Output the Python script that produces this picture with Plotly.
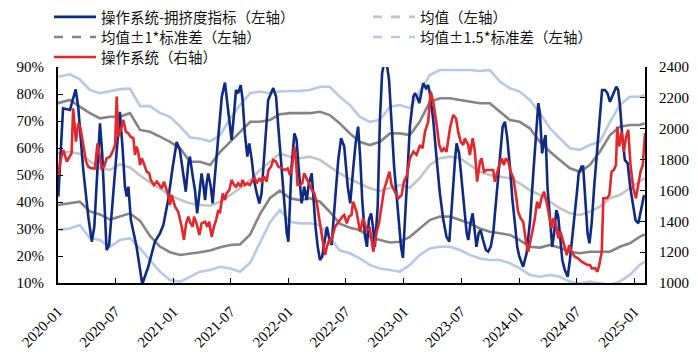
import plotly.graph_objects as go

# ---------------- data ----------------
blue_dates = [
 "2020-01-02","2020-01-17","2020-02-08","2020-02-26","2020-03-05","2020-03-21","2020-04-06","2020-04-17","2020-04-25","2020-05-06",
 "2020-05-13","2020-05-20","2020-06-03","2020-06-11","2020-06-30","2020-07-15","2020-07-24","2020-07-31","2020-08-06","2020-08-11",
 "2020-08-19","2020-09-06","2020-09-24","2020-10-13","2020-11-03","2020-11-19","2020-11-30","2020-12-15","2020-12-29","2021-01-11",
 "2021-01-21","2021-02-01","2021-02-09","2021-02-17","2021-02-22","2021-03-03","2021-03-10","2021-03-17","2021-03-24","2021-03-31",
 "2021-04-05","2021-04-11","2021-04-16","2021-04-21","2021-04-29","2021-05-05","2021-05-12","2021-05-23","2021-06-03","2021-06-13",
 "2021-06-20","2021-06-29","2021-07-04","2021-07-12","2021-07-18","2021-07-25","2021-08-02","2021-08-08","2021-08-15","2021-08-23",
 "2021-08-29","2021-09-06","2021-09-13","2021-09-22","2021-09-30","2021-10-07","2021-10-18","2021-10-28","2021-11-13","2021-11-22",
 "2021-11-29","2021-12-07","2021-12-15","2021-12-26","2021-12-31","2022-01-10","2022-01-19","2022-01-26","2022-02-02","2022-02-11",
 "2022-02-19","2022-02-27","2022-03-06","2022-03-15","2022-03-21","2022-03-27","2022-04-03","2022-04-10","2022-04-17","2022-04-26",
 "2022-05-02","2022-05-09","2022-05-17","2022-05-28","2022-06-07","2022-06-16","2022-06-26","2022-07-07","2022-07-15","2022-07-24",
 "2022-08-01","2022-08-09","2022-08-16","2022-08-22","2022-08-31","2022-09-06","2022-09-12","2022-09-19","2022-09-25","2022-10-01",
 "2022-10-10","2022-10-17","2022-10-24","2022-10-31","2022-11-07","2022-11-15","2022-11-23","2022-12-01","2022-12-12","2022-12-23",
 "2022-12-29","2023-01-04","2023-01-10","2023-01-20","2023-01-31","2023-02-05","2023-02-12","2023-02-19","2023-02-24","2023-03-03",
 "2023-03-12","2023-03-19","2023-03-24","2023-04-04","2023-04-15","2023-04-25","2023-05-06","2023-05-16","2023-05-25","2023-06-04",
 "2023-06-12","2023-06-17","2023-06-25","2023-07-03","2023-07-10","2023-07-19","2023-07-24","2023-07-31","2023-08-07","2023-08-13",
 "2023-08-19","2023-08-26","2023-09-01","2023-09-09","2023-09-18","2023-09-25","2023-10-03","2023-10-11","2023-10-22","2023-11-01",
 "2023-11-10","2023-11-17","2023-11-24","2023-12-03","2023-12-11","2023-12-20","2023-12-26","2024-01-02","2024-01-14","2024-01-25",
 "2024-02-05","2024-02-15","2024-02-22","2024-03-02","2024-03-07","2024-03-14","2024-03-21","2024-03-25","2024-03-31","2024-04-08",
 "2024-04-15","2024-04-21","2024-04-28","2024-05-04","2024-05-10","2024-05-17","2024-05-25","2024-06-03","2024-06-10","2024-06-17",
 "2024-06-26","2024-07-02","2024-07-08","2024-07-17","2024-07-22","2024-07-30","2024-08-05","2024-08-11","2024-08-18","2024-08-26",
 "2024-09-04","2024-09-13","2024-09-20","2024-09-29","2024-10-07","2024-10-15","2024-10-22","2024-10-28","2024-11-04","2024-11-10",
 "2024-11-16","2024-11-23","2024-12-01","2024-12-10","2024-12-18","2024-12-28","2025-01-04","2025-01-13","2025-01-19","2025-01-31"]
blue_values = [
 42.0,74.7,74.1,81.7,75.3,51.9,34.6,25.3,30.8,56.8,
 69.1,58.0,22.2,24.1,51.9,73.4,59.3,45.7,42.0,45.7,
 33.3,23.4,9.6,16.0,25.3,28.4,31.5,40.7,52.6,62.2,
 59.3,49.4,43.8,54.3,56.8,49.4,44.4,35.8,43.2,50.6,
 46.9,40.7,46.9,50.6,45.7,39.5,49.4,65.4,79.0,84.2,
 77.8,67.9,63.0,72.9,81.5,80.3,83.3,77.8,65.4,56.8,
 61.7,55.6,48.1,43.2,39.5,43.2,63.0,77.8,82.2,79.0,
 67.9,55.6,43.2,28.4,25.3,53.1,65.4,63.0,51.9,39.5,
 45.7,40.7,46.9,50.6,40.7,30.8,23.4,18.5,19.7,27.1,
 30.8,26.6,24.1,40.7,55.6,63.6,60.5,45.7,39.5,51.9,
 61.7,67.9,55.6,40.7,27.1,23.4,33.3,35.8,30.8,23.4,
 38.3,70.4,87.7,91.9,91.9,85.2,70.4,53.1,38.3,23.4,
 19.3,30.8,45.7,67.9,79.0,80.3,78.9,76.6,80.3,84.0,
 82.1,83.3,80.3,70.4,55.6,43.2,33.3,27.1,25.3,43.2,
 55.6,61.7,58.0,48.1,39.5,28.4,25.9,32.1,35.8,28.4,
 23.4,28.4,29.6,25.9,22.2,21.6,23.4,28.4,43.2,58.0,
 67.9,69.7,64.2,53.1,40.7,30.8,23.4,19.7,16.0,21.1,
 33.3,50.6,63.0,76.6,72.9,58.0,63.0,64.8,45.7,33.3,
 23.4,28.4,37.0,34.6,25.9,18.5,14.8,12.3,18.5,25.9,
 34.6,43.2,50.6,53.1,53.1,38.3,28.4,24.7,32.1,45.7,
 58.0,70.4,81.5,81.5,80.3,77.1,79.0,80.9,82.7,81.5,
 75.3,64.2,55.6,54.3,45.7,38.3,33.3,32.1,35.8,42.6]

red_dates = [
 "2020-01-02","2020-01-09","2020-01-18","2020-01-29","2020-02-13","2020-02-18","2020-02-27","2020-03-05","2020-03-12","2020-03-21",
 "2020-03-30","2020-04-06","2020-04-17","2020-04-27","2020-05-05","2020-05-10","2020-05-18","2020-05-26","2020-06-03","2020-06-14",
 "2020-06-22","2020-06-30","2020-07-05","2020-07-10","2020-07-18","2020-07-26","2020-08-03","2020-08-11","2020-08-18","2020-08-27",
 "2020-09-01","2020-09-06","2020-09-11","2020-09-17","2020-09-22","2020-09-27","2020-10-08","2020-10-16","2020-10-21","2020-10-31",
 "2020-11-09","2020-11-25","2020-12-02","2020-12-10","2020-12-15","2020-12-21","2020-12-26","2021-01-06","2021-01-16","2021-01-27",
 "2021-02-03","2021-02-10","2021-02-17","2021-02-24","2021-03-03","2021-03-07","2021-03-15","2021-03-24","2021-03-31","2021-04-11",
 "2021-04-18","2021-04-24","2021-05-02","2021-05-09","2021-05-16","2021-05-23","2021-05-28","2021-06-06","2021-06-13","2021-06-18",
 "2021-06-27","2021-07-04","2021-07-12","2021-07-18","2021-07-25","2021-08-02","2021-08-08","2021-08-15","2021-08-23","2021-08-31",
 "2021-09-09","2021-09-16","2021-09-22","2021-09-30","2021-10-07","2021-10-15","2021-10-23","2021-10-29","2021-11-06","2021-11-13",
 "2021-11-22","2021-11-29","2021-12-10","2021-12-20","2021-12-29","2022-01-05","2022-01-12","2022-01-19","2022-01-24","2022-01-29",
 "2022-02-06","2022-02-13","2022-02-19","2022-02-27","2022-03-06","2022-03-15","2022-03-23","2022-03-31","2022-04-07","2022-04-13",
 "2022-04-20","2022-04-26","2022-05-02","2022-05-09","2022-05-15","2022-05-21","2022-05-28","2022-06-05","2022-06-12","2022-06-20",
 "2022-06-26","2022-07-04","2022-07-11","2022-07-19","2022-07-24","2022-08-04","2022-08-15","2022-08-25","2022-09-05","2022-09-15",
 "2022-09-26","2022-10-07","2022-10-14","2022-10-22","2022-10-30","2022-11-07","2022-11-16","2022-11-23","2022-12-04","2022-12-14",
 "2022-12-25","2023-01-01","2023-01-11","2023-01-20","2023-01-31","2023-02-10","2023-02-21","2023-03-01","2023-03-09","2023-03-19",
 "2023-03-27","2023-04-04","2023-04-15","2023-04-23","2023-05-01","2023-05-08","2023-05-16","2023-05-27","2023-06-06","2023-06-15",
 "2023-06-22","2023-06-30","2023-07-08","2023-07-13","2023-07-24","2023-07-29","2023-08-07","2023-08-14","2023-08-21","2023-08-30",
 "2023-09-04","2023-09-12","2023-09-20","2023-10-11","2023-10-16","2023-10-27","2023-11-07","2023-11-14","2023-11-20","2023-11-28",
 "2023-12-05","2023-12-14","2023-12-22","2023-12-29","2024-01-06","2024-01-14","2024-01-23","2024-01-30","2024-02-10","2024-02-20",
 "2024-02-27","2024-03-05","2024-03-12","2024-03-20","2024-03-28","2024-04-05","2024-04-13","2024-04-18","2024-04-27","2024-05-04",
 "2024-05-11","2024-05-20","2024-05-25","2024-05-31","2024-06-08","2024-06-15","2024-06-26","2024-07-06","2024-07-17","2024-07-28",
 "2024-08-04","2024-08-13","2024-08-18","2024-08-29","2024-09-05","2024-09-11","2024-09-19","2024-09-24","2024-10-05","2024-10-13",
 "2024-10-20","2024-10-27","2024-11-03","2024-11-07","2024-11-13","2024-11-21","2024-11-28","2024-12-04","2024-12-12","2024-12-19",
 "2024-12-28","2025-01-05","2025-01-13","2025-01-20","2025-01-27","2025-02-03"]
red_values = [
 1700,1797,1862,1786,1841,2132,1916,2035,2005,1894,
 1786,1754,1743,1743,1905,1851,1743,1754,1808,1819,
 1851,1894,2208,1948,1992,2057,1981,1970,1948,1938,
 1830,1884,1851,1765,1808,1786,1722,1711,1668,1635,
 1657,1614,1657,1603,1570,1505,1570,1495,1462,1365,
 1279,1387,1430,1387,1365,1430,1387,1311,1387,1397,
 1365,1397,1300,1365,1408,1473,1452,1581,1538,1581,
 1603,1668,1635,1624,1646,1624,1668,1635,1646,1635,
 1668,1679,1646,1679,1657,1689,1657,1732,1754,1797,
 1786,1754,1743,1732,1743,1700,1754,1884,1797,1635,
 1635,1646,1711,1679,1646,1603,1581,1517,1430,1343,
 1246,1181,1235,1279,1268,1322,1365,1387,1408,1430,
 1441,1387,1430,1441,1527,1462,1333,1419,1343,1354,
 1203,1333,1387,1505,1603,1657,1722,1635,1592,1549,
 1570,1657,1700,1808,1851,1830,1894,1873,1981,2046,
 2240,2175,2024,1894,1851,1873,1851,2003,2089,2068,
 1981,1916,1894,1938,1894,1830,1938,1851,1657,1786,
 1808,1722,1732,1732,1657,1743,1808,1765,1808,1786,
 1722,1679,1570,1462,1419,1397,1268,1203,1311,1419,
 1527,1484,1549,1592,1527,1441,1354,1419,1376,1290,
 1333,1268,1225,1181,1246,1203,1170,1160,1138,1127,
 1117,1117,1095,1095,1073,1117,1203,1549,1549,1570,
 1722,1732,1765,2013,1884,1981,1851,1938,1992,1765,
 1614,1549,1657,1722,1765,1970]

band_dates = [
 "2020-01-01","2020-02-08","2020-03-10","2020-04-11","2020-05-13","2020-06-14","2020-07-15","2020-08-16","2020-09-17","2020-10-18",
 "2020-11-19","2020-12-21","2021-01-22","2021-02-22","2021-03-26","2021-04-27","2021-05-29","2021-06-30","2021-07-31","2021-09-01",
 "2021-10-02","2021-11-03","2021-12-04","2022-01-05","2022-02-05","2022-03-09","2022-04-10","2022-05-11","2022-06-12","2022-07-14",
 "2022-08-14","2022-09-15","2022-10-17","2022-11-18","2022-12-19","2023-01-20","2023-02-20","2023-03-24","2023-04-25","2023-05-27",
 "2023-06-28","2023-07-29","2023-08-30","2023-09-30","2023-11-01","2023-12-03","2024-01-03","2024-02-04","2024-03-07","2024-04-08",
 "2024-05-09","2024-06-10","2024-07-12","2024-08-12","2024-09-13","2024-10-15","2024-11-15","2024-12-17","2025-01-17","2025-02-02"]
mean_values = [
 58.0,58.6,57.8,55.0,52.5,51.9,54.0,52.8,49.8,47.3,
 44.8,42.6,40.8,39.5,38.9,38.6,40.1,42.6,45.1,48.1,
 51.9,54.9,58.0,56.8,56.2,56.8,55.6,53.1,50.6,48.5,
 46.9,45.1,44.1,45.1,46.3,45.3,48.8,53.7,56.2,56.8,
 56.2,53.7,51.2,50.0,49.4,48.8,46.9,44.4,42.6,40.1,
 37.7,35.8,35.2,36.4,38.3,41.4,42.6,45.1,47.5,48.8]
up1_values = [
 76.6,77.8,75.3,72.9,71.0,71.6,71.6,72.9,66.7,66.0,
 64.2,62.3,59.9,54.9,54.9,53.7,58.6,62.3,66.0,69.7,
 69.7,70.4,72.5,72.9,72.9,72.9,73.4,72.2,69.1,65.4,
 62.3,61.1,62.3,65.4,65.4,64.8,69.7,77.1,78.4,78.4,
 77.8,77.1,76.6,76.6,73.4,70.4,69.7,67.3,62.3,58.6,
 55.6,52.5,51.2,53.7,58.6,64.8,67.9,68.5,68.5,69.1]
low1_values = [
 38.9,39.5,40.1,36.5,35.4,33.5,34.6,35.8,33.0,27.5,
 23.5,21.4,20.4,20.8,21.4,22.0,23.2,24.1,24.3,28.0,
 35.5,41.5,44.2,41.4,40.7,41.4,40.1,36.4,32.0,30.5,
 29.6,27.1,25.9,25.0,25.3,27.1,30.2,33.3,34.6,34.6,
 33.3,32.1,30.2,29.0,28.4,27.8,25.9,23.4,23.1,24.1,
 23.1,21.6,21.0,21.6,21.6,21.6,23.4,24.7,27.1,28.0]
up15_values = [
 86.4,87.3,85.4,81.5,80.3,81.0,81.8,82.0,75.5,75.5,
 73.0,71.5,68.0,64.0,63.4,62.5,64.8,71.0,75.9,80.3,
 80.9,80.3,80.9,81.1,81.1,81.5,82.7,82.7,79.0,75.9,
 71.6,69.7,70.4,75.3,75.9,74.7,80.9,87.0,88.9,88.9,
 88.9,88.9,88.5,88.9,84.6,82.1,80.9,77.8,72.9,67.3,
 63.6,59.9,59.3,61.1,62.3,69.7,75.9,79.0,79.0,79.6]
low15_values = [
 29.6,30.2,31.5,26.6,25.9,23.4,25.9,26.6,22.8,18.5,
 14.2,11.1,10.5,12.3,14.2,14.8,16.0,15.4,14.2,17.5,
 25.0,32.5,37.0,32.7,32.1,32.1,31.5,26.6,22.0,21.0,
 19.1,16.7,15.4,14.8,14.2,16.7,20.4,22.8,23.4,23.4,
 22.2,20.4,19.1,18.5,18.5,17.3,15.4,13.0,12.3,13.0,
 12.3,10.5,9.9,10.5,9.9,9.3,10.5,13.0,16.7,17.9]

x_ticks = ["2020-01-01","2020-07-01","2021-01-01","2021-07-01","2022-01-01","2022-07-01",
           "2023-01-01","2023-07-01","2024-01-01","2024-07-01","2025-01-01"]
x_ticktext = ["2020-01","2020-07","2021-01","2021-07","2022-01","2022-07",
              "2023-01","2023-07","2024-01","2024-07","2025-01"]

names = ["操作系统-拥挤度指标（左轴）", "均值（左轴）", "均值±1*标准差（左轴）",
         "均值±1.5*标准差（左轴）", "操作系统（右轴）"]

# ---------------- styles ----------------
C_BLUE = "#0F2A85"
C_RED = "#E3272B"
C_MEAN = "#C4C4C4"
C_SD1 = "#858585"
C_SD15 = "#B7C9E8"
LW = 2.6

fig = go.Figure()

for vals, col in [(up15_values, C_SD15), (low15_values, C_SD15),
                  (up1_values, C_SD1), (low1_values, C_SD1),
                  (mean_values, C_MEAN)]:
    fig.add_trace(go.Scatter(x=band_dates, y=vals, mode="lines", showlegend=False,
                             line=dict(color=col, width=LW), hoverinfo="skip"))

fig.add_trace(go.Scatter(x=blue_dates, y=blue_values, mode="lines", name=names[0],
                         legend="legend", line=dict(color=C_BLUE, width=LW)))

# legend entries (dashed swatches as in the reference legend)
for nm, col, lg in [(names[1], C_MEAN, "legend2"), (names[2], C_SD1, "legend3"),
                    (names[3], C_SD15, "legend4")]:
    fig.add_trace(go.Scatter(x=[None], y=[None], mode="lines", name=nm, legend=lg,
                             line=dict(color=col, width=LW, dash="dash")))

fig.add_trace(go.Scatter(x=red_dates, y=red_values, mode="lines", name=names[4],
                         legend="legend5", yaxis="y2", line=dict(color=C_RED, width=LW)))

tickfont = dict(family="Liberation Serif, Times New Roman, serif", size=15, color="#000000")
legfont = dict(family="Noto Sans CJK SC, sans-serif", size=14.5, color="#111111")


def leg(xpx, ypx):
    return dict(orientation="h", xref="container", yref="container",
                x=xpx / 698, y=1 - ypx / 363, xanchor="left", yanchor="top",
                font=legfont, bgcolor="rgba(0,0,0,0)", itemwidth=42)


fig.update_layout(
    width=698, height=363,
    margin=dict(l=58, r=53, t=67, b=80, autoexpand=False),
    plot_bgcolor="white", paper_bgcolor="white",
    font=dict(family="Noto Sans CJK SC, sans-serif", color="#000000"),
    legend=leg(49, 1), legend2=leg(368, 1), legend3=leg(49, 21),
    legend4=leg(368, 21), legend5=leg(49, 41),
    xaxis=dict(type="date", range=["2020-01-01", "2025-02-03"], tickvals=x_ticks,
               ticktext=x_ticktext, tickangle=-45, ticks="inside", ticklen=5,
               tickcolor="black", showline=True, linecolor="black", linewidth=2,
               showgrid=False, zeroline=False, tickfont=tickfont, ticklabelstandoff=12,
               automargin=False),
    yaxis=dict(range=[10, 90], dtick=10, ticksuffix="%", ticks="inside", ticklen=5,
               tickcolor="black", showline=True, linecolor="black", linewidth=2,
               showgrid=False, zeroline=False, tickfont=tickfont, ticklabelstandoff=9,
               automargin=False),
    yaxis2=dict(range=[1000, 2400], dtick=200, overlaying="y", side="right",
                ticks="inside", ticklen=5, tickcolor="black", showline=True,
                linecolor="black", linewidth=2, showgrid=False, zeroline=False,
                tickfont=tickfont, ticklabelstandoff=9, automargin=False),
)

fig.write_html("out.html", config={"displayModeBar": False},
               post_script="document.body.style.margin='0px';")
